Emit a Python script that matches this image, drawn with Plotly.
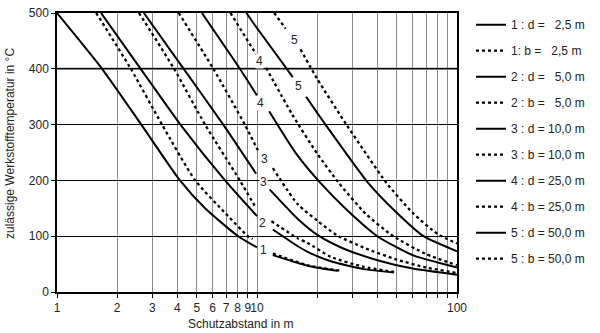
import math
import plotly.graph_objects as go

# ---- data (x = Schutzabstand in m, T = zulässige Werkstofftemperatur in °C)
# None marks the gap where the curve number is written
d1_x = [1.0, 1.68, 2.64, 4.12, 5.5, 8.05, 10.0, None, 12.0, 17.9, 25.2]
d1_T = [500, 400, 300, 200, 150, 100, 80, None, 66, 47, 38]

b1_x = [1.57, 2.34, 3.35, 4.91, 7.0, 9.0, 9.5, None, 12.0, 17.9, 25.8]
b1_T = [500, 400, 300, 200, 140, 100, 95, None, 69, 48, 38.5]

d2_x = [1.66, 2.62, 4.14, 6.92, 10.0, None, 12.0, 16.0, 17.9, 23.4, 34.2, 48.2]
d2_T = [500, 400, 300, 200, 136, None, 112, 82, 72, 55, 41, 35]

b2_x = [2.57, 3.85, 5.5, 8.21, 9.9, None, 11.8, 16.0, 17.9, 23.4, 34.2, 48.5]
b2_T = [500, 400, 300, 200, 150, None, 127, 96, 88, 63, 45, 36]

d3_x = [2.72, 4.3, 6.78, 9.9, None, 11.56, 16.0, 20.5, 27.0, 40.0, 60.0, 100.0]
d3_T = [500, 400, 300, 212, None, 184, 131, 100, 78, 57, 42, 31]

b3_x = [4.06, 6.05, 8.69, 10.1, None, 12.0, 16.0, 20.0, 25.0, 35.0, 50.0, 70.0, 100.0]
b3_T = [500, 400, 300, 254, None, 222, 157, 128, 102, 78, 58, 44, 34]

d4_x = [5.3, 8.21, 10.0, None, 11.5, 15.7, 20.8, 28.0, 40.0, 60.0, 100.0]
d4_T = [500, 400, 352, None, 324, 248, 195, 148, 100, 66, 44]

b4_x = [7.37, 9.9, None, 11.1, 15.0, 20.0, 25.7, 35.0, 48.0, 70.0, 100.0]
b4_T = [500, 426, None, 402, 318, 248, 195, 140, 100, 68, 48]

d5_x = [8.85, 9.9, 14.1, 15.1, None, 17.6, 20.0, 22.0, 35.5, 50.0, 68.0, 100.0]
d5_T = [500, 475, 400, 385, None, 350, 321, 300, 198, 142, 100, 73]

b5_x = [12.2, 13.9, None, 16.5, 20.0, 28.0, 44.5, 60.0, 80.0, 100.0]
b5_T = [500, 472, None, 435, 382, 300, 195, 142, 104, 87]

legend_names = [
    "1 : d =\u00a0\u00a0\u00a02,5 m", "1: b =\u00a0\u00a0\u00a02,5 m",
    "2 : d =\u00a0\u00a0\u00a05,0 m", "2 : b =\u00a0\u00a0\u00a05,0 m",
    "3 : d = 10,0 m", "3 : b = 10,0 m",
    "4 : d = 25,0 m", "4 : b = 25,0 m",
    "5 : d = 50,0 m", "5 : b = 50,0 m",
]

# curve number labels (x in m, T in °C, text)
label_x = [10.8, 10.7, 10.9, 10.8, 10.3, 10.4, 15.4, 16.1]
label_T = [75, 124, 239, 198, 414, 339, 452, 370]
label_txt = ["1", "2", "3", "3", "4", "4", "5", "5"]

x_tickvals = [1, 2, 3, 4, 5, 6, 7, 8, 9, 10, 20, 30, 40, 50, 60, 70, 80, 90, 100]
x_ticktext = ["1", "2", "3", "4", "5", "6", "7", "8", "9", "10", "", "", "", "", "", "", "", "", "100"]
y_tickvals = [0, 100, 200, 300, 400, 500]

series = [(d1_x, d1_T), (b1_x, b1_T), (d2_x, d2_T), (b2_x, b2_T), (d3_x, d3_T),
          (b3_x, b3_T), (d4_x, d4_T), (b4_x, b4_T), (d5_x, d5_T), (b5_x, b5_T)]

FONT = "Liberation Sans, Arial, sans-serif"
TXT = "#222"

fig = go.Figure()
for i, ((xs, ts), name) in enumerate(zip(series, legend_names)):
    dotted = (i % 2 == 1)
    fig.add_trace(go.Scatter(
        x=xs, y=ts, mode="lines", name=name, legendgroup=f"g{i}",
        connectgaps=False,
        line=dict(color="black", width=2.3 if dotted else 2,
                  dash="3px,3px" if dotted else "solid",
                  shape="spline", smoothing=0.6),
    ))

# annotations on a log axis take log10 positions
for lx, lt, tx in zip(label_x, label_T, label_txt):
    fig.add_annotation(x=math.log10(lx), y=lt, xref="x", yref="y", text=tx, showarrow=False,
                       xanchor="center", yanchor="middle",
                       font=dict(family=FONT, size=12, color=TXT),
                       bgcolor="white", borderpad=0)

# darker, thicker 400 line as in the reference
fig.add_shape(type="line", xref="paper", yref="y", x0=0, x1=1, y0=400, y1=400,
              line=dict(color="#555", width=2), layer="below")

# axis titles (pixel positions converted to paper coordinates)
fig.add_annotation(x=(240 - 57) / 400, y=-(324 - 291.7) / 286, xref="paper", yref="paper",
                   xanchor="center", yanchor="middle",
                   text="Schutzabstand in m", showarrow=False,
                   font=dict(family=FONT, size=12, color=TXT))
fig.add_annotation(x=-(57 - 10) / 400, y=(291.7 - 140) / 286, xref="paper", yref="paper",
                   xanchor="center", yanchor="middle",
                   text="zulässige Werkstofftemperatur in °C", textangle=-90,
                   showarrow=False, font=dict(family=FONT, size=12, color=TXT))

fig.update_layout(
    width=600, height=333,
    margin=dict(l=57, r=143, t=6, b=41),
    paper_bgcolor="white", plot_bgcolor="white",
    font=dict(family=FONT, size=12, color=TXT),
    showlegend=True,
    legend=dict(x=1.035, y=1.01, xanchor="left", yanchor="top",
                tracegroupgap=7, maxheight=330,
                font=dict(family=FONT, size=12, color=TXT),
                bgcolor="rgba(0,0,0,0)", itemwidth=30),
    xaxis=dict(type="log", range=[0, 2], tickvals=x_tickvals, ticktext=x_ticktext,
               tickangle=0,
               showgrid=True, gridcolor="#8a8a8a", gridwidth=1.2,
               showline=True, linecolor="black", linewidth=1.5, mirror=True,
               ticks="outside", ticklen=4, tickcolor="black", zeroline=False,
               tickfont=dict(family=FONT, size=12, color=TXT)),
    yaxis=dict(range=[0, 500], tickvals=y_tickvals,
               showgrid=True, gridcolor="black", gridwidth=1,
               showline=True, linecolor="black", linewidth=1.5, mirror=True,
               ticks="outside", ticklen=4, tickcolor="black", zeroline=False,
               tickfont=dict(family=FONT, size=12, color=TXT)),
)

fig.write_html("out.html")
